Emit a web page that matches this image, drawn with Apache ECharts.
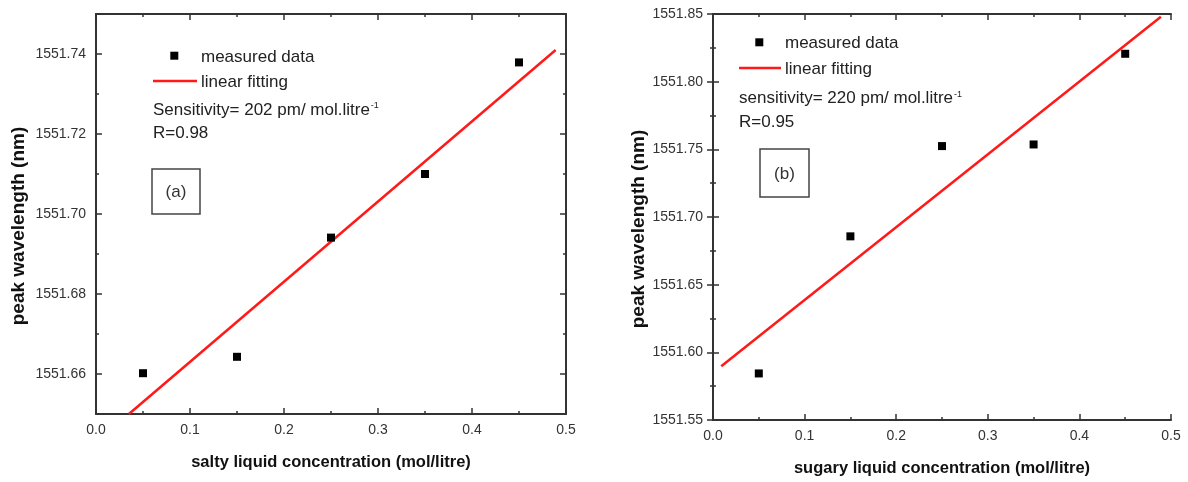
<!DOCTYPE html>
<html>
<head>
<meta charset="utf-8">
<script src="https://cdn.jsdelivr.net/npm/echarts@6/dist/echarts.min.js"></script>
<style>
  html, body { margin: 0; padding: 0; background: #fff; }
  #chart { width: 1188px; height: 482px; }
</style>
</head>
<body>
<div id="chart"></div>
<script>
// Concentrations of the measured solutions (mol/litre)
const concentration = [0.05, 0.15, 0.25, 0.35, 0.45];

// Peak wavelength (nm) for salty liquid, panel (a)
const saltyPeak = [1551.6602, 1551.6643, 1551.6941, 1551.7100, 1551.7379];
// Linear fit end points, panel (a)
const saltyFitX = [0.035, 0.489];
const saltyFitY = [1551.650, 1551.741];

// Peak wavelength (nm) for sugary liquid, panel (b)
const sugaryPeak = [1551.5844, 1551.6857, 1551.7524, 1551.7536, 1551.8206];
// Linear fit end points, panel (b)
const sugaryFitX = [0.009, 0.489];
const sugaryFitY = [1551.5897, 1551.848];

// Labelled ticks on the wavelength axis of panel (a)
const saltyYTicks = [1551.66, 1551.68, 1551.70, 1551.72, 1551.74];

const FONT = "'Liberation Sans', Arial, sans-serif";
const AXIS_COLOR = '#333';
const TEXT_COLOR = '#222';
const FIT_COLOR = '#ff1a1a';

const zip = (xs, ys) => xs.map((x, i) => [x, ys[i]]);

const chart = echarts.init(document.getElementById('chart'), null, { renderer: 'canvas' });

const axisLine = { show: true, lineStyle: { color: AXIS_COLOR, width: 2 } };
const tickLabel = { color: '#333', fontSize: 14, fontFamily: FONT };

function xAxisDef(grid, pos, name) {
  const labelled = pos === 'bottom';
  return {
    type: 'value', gridIndex: grid, position: pos,
    min: 0, max: 0.5, interval: 0.1,
    axisLine,
    axisTick: { show: true, inside: true, length: 6, lineStyle: { color: AXIS_COLOR, width: 1.5 } },
    minorTick: { show: true, splitNumber: 2, length: 3, lineStyle: { color: AXIS_COLOR, width: 1.5 } },
    axisLabel: Object.assign({ show: labelled, margin: 9, formatter: v => v.toFixed(1) }, tickLabel),
    splitLine: { show: false },
    name: labelled ? name : '',
    nameLocation: 'middle', nameGap: 40,
    nameTextStyle: { fontSize: 16.5, fontWeight: 'bold', color: '#111', fontFamily: FONT }
  };
}

const yName = {
  name: 'peak wavelength (nm)', nameLocation: 'middle',
  nameTextStyle: { fontSize: 19, fontWeight: 'bold', color: '#111', fontFamily: FONT, padding: [0, 24, 0, 0] }
};

// Panel (a) wavelength axis: minor ticks every 0.01, labelled major ticks on a twin axis
function saltyYMinor(pos) {
  return {
    type: 'value', gridIndex: 0, position: pos,
    min: 1551.65, max: 1551.75, interval: 0.01,
    axisLine,
    axisTick: { show: true, inside: true, length: 3, lineStyle: { color: AXIS_COLOR, width: 1.5 } },
    axisLabel: { show: false },
    splitLine: { show: false }
  };
}
function saltyYMajor(pos) {
  const labelled = pos === 'left';
  return Object.assign({
    type: 'value', gridIndex: 0, position: pos,
    min: 1551.65, max: 1551.75,
    axisLine: { show: false },
    axisTick: { show: true, inside: true, length: 6, customValues: saltyYTicks,
                lineStyle: { color: AXIS_COLOR, width: 1.5 } },
    axisLabel: Object.assign({ show: labelled, margin: 10, customValues: saltyYTicks,
                               formatter: v => v.toFixed(2) }, tickLabel),
    splitLine: { show: false }
  }, labelled ? Object.assign({ nameGap: 68 }, yName) : {});
}
function sugaryY(pos) {
  const labelled = pos === 'left';
  return Object.assign({
    type: 'value', gridIndex: 1, position: pos,
    min: 1551.55, max: 1551.85, interval: 0.05,
    axisLine,
    axisTick: { show: true, inside: true, length: 6, lineStyle: { color: AXIS_COLOR, width: 1.5 } },
    minorTick: { show: true, splitNumber: 2, length: 3, lineStyle: { color: AXIS_COLOR, width: 1.5 } },
    axisLabel: Object.assign({ show: labelled, margin: 10, formatter: v => v.toFixed(2) }, tickLabel),
    splitLine: { show: false }
  }, labelled ? Object.assign({ nameGap: 65 }, yName) : {});
}

// Legend, annotations and panel tags
function panelText(x, y, text, extra) {
  return {
    type: 'text', x, y, silent: true,
    style: Object.assign({
      text, fill: TEXT_COLOR, fontSize: 17, fontFamily: FONT, verticalAlign: 'middle', align: 'left',
      rich: { sup: { fontSize: 9, verticalAlign: 'top', fill: TEXT_COLOR, fontFamily: FONT, padding: [0, 0, 6, 1] } }
    }, extra || {})
  };
}
function panelDecor(o) {
  return [
    { type: 'rect', silent: true, shape: { x: o.mx - 4, y: o.my - 4, width: 8, height: 8 }, style: { fill: '#000' } },
    panelText(o.tx, o.my + 1.5, 'measured data'),
    { type: 'line', silent: true, shape: { x1: o.lx1, y1: o.ly, x2: o.lx2, y2: o.ly }, style: { stroke: FIT_COLOR, lineWidth: 2.5 } },
    panelText(o.tx, o.ly + 1, 'linear fitting'),
    panelText(o.lx1, o.sy, o.sens + '{sup|-1}'),
    panelText(o.lx1, o.sy + 23.5, o.r),
    { type: 'rect', silent: true, shape: { x: o.bx, y: o.by, width: o.bw, height: o.bh },
      style: { fill: 'none', stroke: '#444', lineWidth: 1.5 } },
    panelText(o.bx + o.bw / 2, o.by + o.bh / 2 + 1, o.tag, { align: 'center', fill: '#333' })
  ];
}

const option = {
  backgroundColor: '#fff',
  animation: false,
  grid: [
    { left: 96, top: 14, width: 470, height: 400 },
    { left: 713, top: 14, width: 458, height: 408 }
  ],
  xAxis: [
    xAxisDef(0, 'bottom', 'salty liquid concentration (mol/litre)'),
    xAxisDef(0, 'top', ''),
    xAxisDef(1, 'bottom', 'sugary liquid concentration (mol/litre)'),
    xAxisDef(1, 'top', '')
  ],
  yAxis: [
    saltyYMinor('left'),
    saltyYMajor('left'),
    saltyYMinor('right'),
    saltyYMajor('right'),
    sugaryY('left'),
    sugaryY('right')
  ],
  series: [
    {
      name: 'measured data', type: 'scatter', xAxisIndex: 0, yAxisIndex: 0,
      symbol: 'rect', symbolSize: 8, itemStyle: { color: '#000', opacity: 1 },
      data: zip(concentration, saltyPeak), z: 3
    },
    {
      name: 'linear fitting', type: 'line', xAxisIndex: 0, yAxisIndex: 0,
      showSymbol: false, clip: true, lineStyle: { color: FIT_COLOR, width: 2.5 },
      data: zip(saltyFitX, saltyFitY), z: 2
    },
    {
      name: 'measured data', type: 'scatter', xAxisIndex: 2, yAxisIndex: 4,
      symbol: 'rect', symbolSize: 8, itemStyle: { color: '#000', opacity: 1 },
      data: zip(concentration, sugaryPeak), z: 3
    },
    {
      name: 'linear fitting', type: 'line', xAxisIndex: 2, yAxisIndex: 4,
      showSymbol: false, clip: true, lineStyle: { color: FIT_COLOR, width: 2.5 },
      data: zip(sugaryFitX, sugaryFitY), z: 2
    }
  ],
  graphic: [
    ...panelDecor({ mx: 174.3, my: 55.7, tx: 201, lx1: 153, lx2: 197, ly: 81,
                    sy: 110, sens: 'Sensitivity= 202 pm/ mol.litre', r: 'R=0.98',
                    bx: 152, by: 169, bw: 48, bh: 45, tag: '(a)' }),
    ...panelDecor({ mx: 759.3, my: 42.3, tx: 785, lx1: 739, lx2: 781, ly: 68,
                    sy: 98.5, sens: 'sensitivity= 220 pm/ mol.litre', r: 'R=0.95',
                    bx: 760, by: 149, bw: 49, bh: 48, tag: '(b)' })
  ]
};

chart.setOption(option);
</script>
</body>
</html>
